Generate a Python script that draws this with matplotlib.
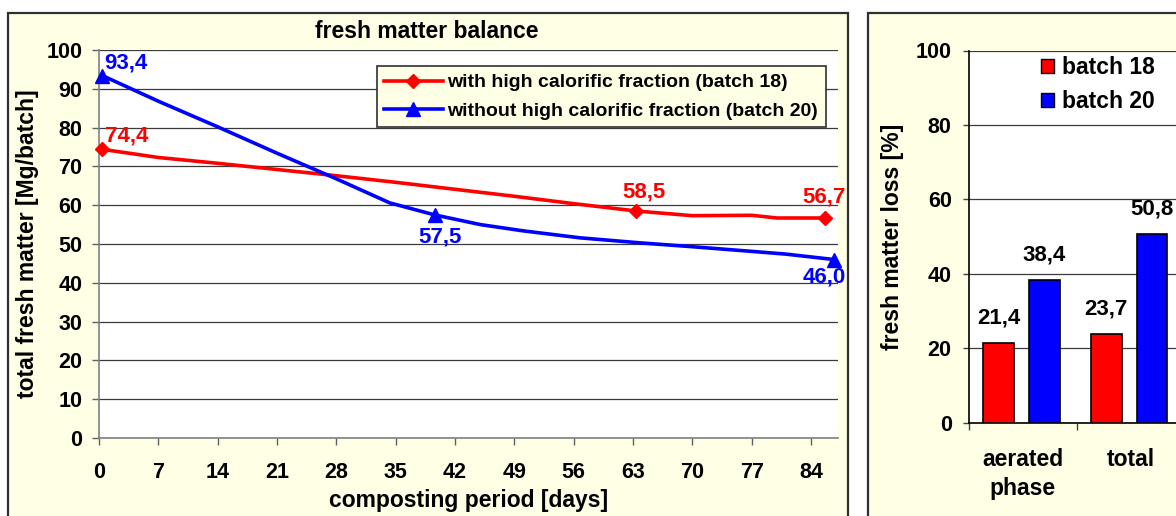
import matplotlib
matplotlib.use('Agg')
import matplotlib.pyplot as plt
from matplotlib.patches import Rectangle, Patch
from matplotlib.lines import Line2D

plt.rcParams['font.family'] = ['Liberation Sans', 'DejaVu Sans']
plt.rcParams['font.weight'] = 'bold'

# ---------------- data ----------------
days_b18 = [0.4, 7, 14, 21, 28, 35, 42, 49, 56, 63.4, 70, 77, 80, 85.7]
mass_b18 = [74.4, 72.3, 70.8, 69.2, 67.6, 65.9, 64.1, 62.3, 60.4, 58.5, 57.3, 57.4, 56.7, 56.7]
marked_b18 = [0, 9, 13]

days_b20 = [0.4, 7, 14, 21, 28, 34.3, 39.6, 45, 50, 56.7, 63.8, 70, 77, 81, 86.7]
mass_b20 = [93.4, 86.8, 80.2, 73.4, 66.8, 60.6, 57.5, 55.0, 53.4, 51.6, 50.3, 49.3, 48.1, 47.4, 46.0]
marked_b20 = [0, 6, 14]

series_labels = ['with high calorific fraction (batch 18)',
                 'without high calorific fraction (batch 20)']
day_ticks = list(range(0, 85, 7))
mass_ticks = list(range(0, 101, 10))

loss_categories = ['aerated\nphase', 'total']
loss_b18 = [21.4, 23.7]
loss_b20 = [38.4, 50.8]
loss_labels = ['batch 18', 'batch 20']
loss_ticks = list(range(0, 101, 20))

RED = '#FF0000'
BLUE = '#0000FF'
PANEL = '#FFFFE6'
W, H = 1176, 516


def fmt(v):
    return f'{v:.1f}'.replace('.', ',')


def px_rect(x0, y0, x1, y1):
    return [x0 / W, 1 - y1 / H, (x1 - x0) / W, (y1 - y0) / H]


fig = plt.figure(figsize=(W / 100, H / 100), dpi=100)
fig.patch.set_facecolor('white')

for (x0, y0, x1, y1) in [(8, 13, 848, 600), (868, 13, 1300, 600)]:
    l, b, w, h = px_rect(x0, y0, x1, y1)
    fig.patches.append(Rectangle((l, b), w, h, transform=fig.transFigure,
                                 facecolor=PANEL, edgecolor='#303030', lw=1.6,
                                 zorder=-5))

# ---------------- left chart ----------------
ax = fig.add_axes(px_rect(99, 50, 838, 438))
ax.set_facecolor('white')
ax.set_xlim(0, 84 * 739 / 712)
ax.set_ylim(0, 100)

ax.plot(days_b18, mass_b18, color=RED, lw=2.6, solid_joinstyle='round', zorder=3)
ax.plot(days_b20, mass_b20, color=BLUE, lw=2.6, solid_joinstyle='round', zorder=3)
mx18 = [days_b18[i] for i in marked_b18]
my18 = [mass_b18[i] for i in marked_b18]
mx20 = [days_b20[i] for i in marked_b20]
my20 = [mass_b20[i] for i in marked_b20]
ax.plot(mx18, my18, ls='none', marker='D', ms=7, color=RED, clip_on=False, zorder=4)
ax.plot(mx20, my20, ls='none', marker='^', ms=9.5, color=BLUE, clip_on=False, zorder=4)

offs18 = [(3, 13.5, 'left'), (8, 19, 'center'), (-1, 21, 'center')]
offs20 = [(1.5, 13, 'left'), (5, -22, 'center'), (-10, -17, 'center')]
for (x, y), (dx, dy, ha) in zip(zip(mx18, my18), offs18):
    ax.annotate(fmt(y), (x, y), xytext=(dx, dy), textcoords='offset pixels',
                ha=ha, va='center', color=RED, fontsize=16, fontweight='bold',
                annotation_clip=False, zorder=5)
for (x, y), (dx, dy, ha) in zip(zip(mx20, my20), offs20):
    ax.annotate(fmt(y), (x, y), xytext=(dx, dy), textcoords='offset pixels',
                ha=ha, va='center', color=BLUE, fontsize=16, fontweight='bold',
                annotation_clip=False, zorder=5)

ax.set_xticks(day_ticks)
ax.set_yticks(mass_ticks)
ax.grid(axis='y', color='#3a3a3a', lw=0.9)
ax.set_axisbelow(True)
for s in ['top', 'right']:
    ax.spines[s].set_visible(False)
for s in ['left', 'bottom']:
    ax.spines[s].set_color('#808080')
    ax.spines[s].set_linewidth(1.2)
ax.tick_params(axis='both', direction='out', length=5, width=1, color='#606060',
               labelsize=15.5)
ax.tick_params(axis='x', pad=12)
ax.tick_params(axis='y', pad=7)
for t in ax.get_xticklabels() + ax.get_yticklabels():
    t.set_fontweight('bold')

handles = [Line2D([], [], color=RED, lw=2.6, marker='D', ms=7),
           Line2D([], [], color=BLUE, lw=2.6, marker='^', ms=9.5)]
leg = ax.legend(handles, series_labels, loc='upper right',
                bbox_to_anchor=((826 - 99) / 739, (438 - 66) / 388),
                borderaxespad=0, fancybox=False, framealpha=1,
                facecolor=PANEL, edgecolor='#303030', fontsize=14,
                handlelength=3.0, handletextpad=0.25, labelspacing=0.55,
                borderpad=0.4)
leg.get_frame().set_linewidth(1.2)
for t in leg.get_texts():
    t.set_fontweight('bold')

fig.text(427 / W, 1 - 32 / H, 'fresh matter balance', ha='center', va='center',
         fontsize=16.5, fontweight='bold')
fig.text(27.5 / W, 1 - 244 / H, 'total fresh matter [Mg/batch]', ha='center',
         va='center', rotation=90, fontsize=16.5, fontweight='bold')
fig.text(468.5 / W, 1 - 501 / H, 'composting period [days]', ha='center',
         va='center', fontsize=16.5, fontweight='bold')

# ---------------- right chart ----------------
ax2 = fig.add_axes(px_rect(969, 50.5, 1184.4, 422.7))
ax2.set_facecolor('white')
xc = list(range(len(loss_categories)))
bw = 0.285
b1 = ax2.bar([x - 0.225 for x in xc], loss_b18, width=bw, color=RED,
             edgecolor='black', lw=1.2, zorder=3)
b2 = ax2.bar([x + 0.2 for x in xc], loss_b20, width=bw, color=BLUE,
             edgecolor='black', lw=1.2, zorder=3)
for bars, vals in [(b1, loss_b18), (b2, loss_b20)]:
    for r, v in zip(bars, vals):
        ax2.annotate(fmt(v), (r.get_x() + r.get_width() / 2, v), xytext=(0, 25),
                     textcoords='offset pixels', ha='center', va='center',
                     fontsize=16, fontweight='bold', color='black',
                     annotation_clip=False)
ax2.set_xlim(-0.5, len(loss_categories) - 0.5)
ax2.set_ylim(0, 100)
ax2.set_yticks(loss_ticks)
ax2.set_xticks(xc)
ax2.set_xticklabels(loss_categories, fontsize=16.5, fontweight='bold',
                    linespacing=1.35)
ax2.set_xticks([x - 0.5 for x in range(len(loss_categories) + 1)], minor=True)
ax2.tick_params(axis='x', which='major', length=0, pad=18)
ax2.tick_params(axis='x', which='minor', direction='out', length=5, width=1,
                color='#404040')
ax2.tick_params(axis='y', direction='out', length=4.5, width=1, color='#404040',
                labelsize=15.5, pad=8)
for t in ax2.get_yticklabels():
    t.set_fontweight('bold')
for lbl in ax2.get_xticklabels():
    lbl.set_verticalalignment('top')
ax2.grid(axis='y', color='#3a3a3a', lw=0.9)
ax2.set_axisbelow(True)
for s in ['top', 'right']:
    ax2.spines[s].set_visible(False)
for s in ['left', 'bottom']:
    ax2.spines[s].set_color('black')
    ax2.spines[s].set_linewidth(1.2)

phandles = [Patch(facecolor=RED, edgecolor='black', lw=1),
            Patch(facecolor=BLUE, edgecolor='black', lw=1)]
leg2 = ax2.legend(phandles, loss_labels, loc='upper left',
                  bbox_to_anchor=((1041 - 969) / 215.4, (422.7 - 56) / 372.2),
                  borderaxespad=0, borderpad=0, frameon=False, fontsize=16.5,
                  handlelength=0.55, handleheight=0.55, handletextpad=0.35,
                  labelspacing=0.5)
for t in leg2.get_texts():
    t.set_fontweight('bold')

fig.text(892 / W, 1 - 236.6 / H, 'fresh matter loss [%]', ha='center',
         va='center', rotation=90, fontsize=16.5, fontweight='bold')

fig.savefig('out.png', dpi=100)
